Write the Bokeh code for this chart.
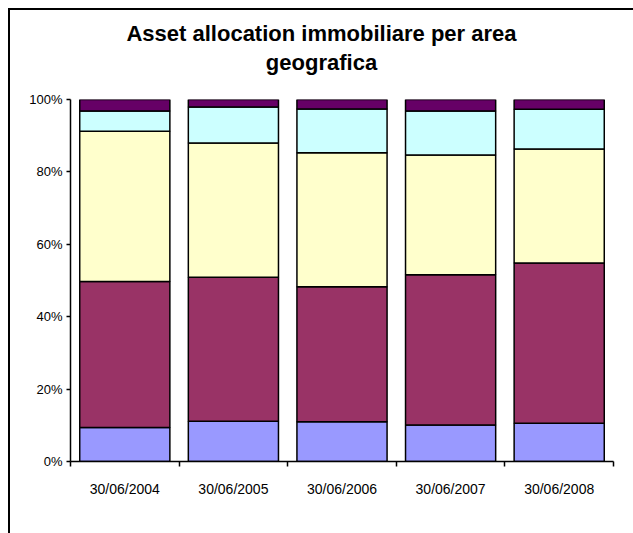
from bokeh.plotting import figure
from bokeh.layouts import column
from bokeh.models import (ColumnDataSource, Range1d, LinearAxis, FixedTicker,
                          PrintfTickFormatter, Legend, Div)
from bokeh.embed import file_html
from bokeh.resources import INLINE

dates = ["30/06/2004", "30/06/2005", "30/06/2006", "30/06/2007", "30/06/2008"]
regions = ["Nord Est", "Nord Ovest", "Centro", "Sud e Isole", "Estero"]
nord_est = [9.4, 11.1, 11.0, 10.1, 10.6]
nord_ovest = [40.3, 39.8, 37.3, 41.5, 44.2]
centro = [41.5, 37.1, 37.0, 33.1, 31.5]
sud_isole = [5.6, 9.9, 12.1, 12.1, 11.0]
estero = [3.2, 2.1, 2.6, 3.2, 2.7]
y_ticks = [0, 20, 40, 60, 80, 100]
colors = ["#9999FF", "#993366", "#FFFFCC", "#CCFFFF", "#660066"]
title_text = "Asset allocation immobiliare per area<br>geografica"

FONT = "Liberation Sans"

n = len(dates)
centers = [i + 0.5 for i in range(n)]
bounds = list(range(n + 1))

source = ColumnDataSource(dict(x=centers, date=dates, **{
    "Nord Est": nord_est, "Nord Ovest": nord_ovest, "Centro": centro,
    "Sud e Isole": sud_isole, "Estero": estero}))

p = figure(x_range=Range1d(0, n), y_range=Range1d(0, 100),
           frame_width=543, frame_height=362, output_backend="svg", toolbar_location=None,
           x_axis_location=None, y_axis_location=None,
           min_border_left=60, min_border_right=10, min_border_top=10, min_border_bottom=62)
p.title.visible = False
p.outline_line_color = None
p.xgrid.visible = False
p.ygrid.visible = False
p.background_fill_color = "white"
p.border_fill_color = "white"

renderers = p.vbar_stack(regions, x="x", width=0.83, color=colors, line_color="black",
                         line_width=1.5, source=source)

# y axis
yaxis = LinearAxis(ticker=FixedTicker(ticks=y_ticks), formatter=PrintfTickFormatter(format="%d%%"))
yaxis.axis_line_color = "black"
yaxis.axis_line_width = 1.5
yaxis.major_tick_out = 4
yaxis.major_tick_in = 0
yaxis.major_tick_line_width = 1.5
yaxis.minor_tick_line_color = None
yaxis.major_label_text_font = FONT
yaxis.major_label_text_font_size = "13px"
yaxis.major_label_text_color = "black"
yaxis.major_label_standoff = 4
p.add_layout(yaxis, "left")

# x axis: labels centered on categories, tick marks at category boundaries
xaxis = LinearAxis(ticker=FixedTicker(ticks=centers, minor_ticks=bounds))
xaxis.major_label_overrides = {c: d for c, d in zip(centers, dates)}
xaxis.axis_line_color = "black"
xaxis.axis_line_width = 1.5
xaxis.major_tick_line_color = None
xaxis.major_tick_out = 0
xaxis.major_tick_in = 0
xaxis.minor_tick_out = 5
xaxis.minor_tick_in = 0
xaxis.minor_tick_line_width = 1.5
xaxis.minor_tick_line_color = "black"
xaxis.major_label_text_font = FONT
xaxis.major_label_text_font_size = "14px"
xaxis.major_label_text_color = "black"
xaxis.major_label_standoff = 14
p.add_layout(xaxis, "below")

legend = Legend(items=[(r, [rend]) for r, rend in zip(regions, renderers)],
                orientation="horizontal", location="top_center")
legend.glyph_width = 8
legend.glyph_height = 8
legend.label_standoff = 6
legend.spacing = 38
legend.padding = 0
legend.margin = 15
legend.border_line_color = None
legend.background_fill_alpha = 0
legend.label_text_font = FONT
legend.label_text_font_size = "12px"
legend.label_text_color = "black"
p.add_layout(legend, "below")

title_div = Div(text=title_text, width=613, height=69,
                styles={"font-family": FONT, "font-weight": "bold", "font-size": "22px",
                        "line-height": "29px", "text-align": "center", "color": "black",
                        "padding-top": "4px", "box-sizing": "border-box"})

layout = column(title_div, p, spacing=0,
                styles={"margin-left": "8px", "margin-top": "8px", "background": "white",
                        "border-top": "2px solid black", "border-left": "2px solid black",
                        "border-right": "2px solid black"})

open("out.html", "w").write(file_html(layout, INLINE))
